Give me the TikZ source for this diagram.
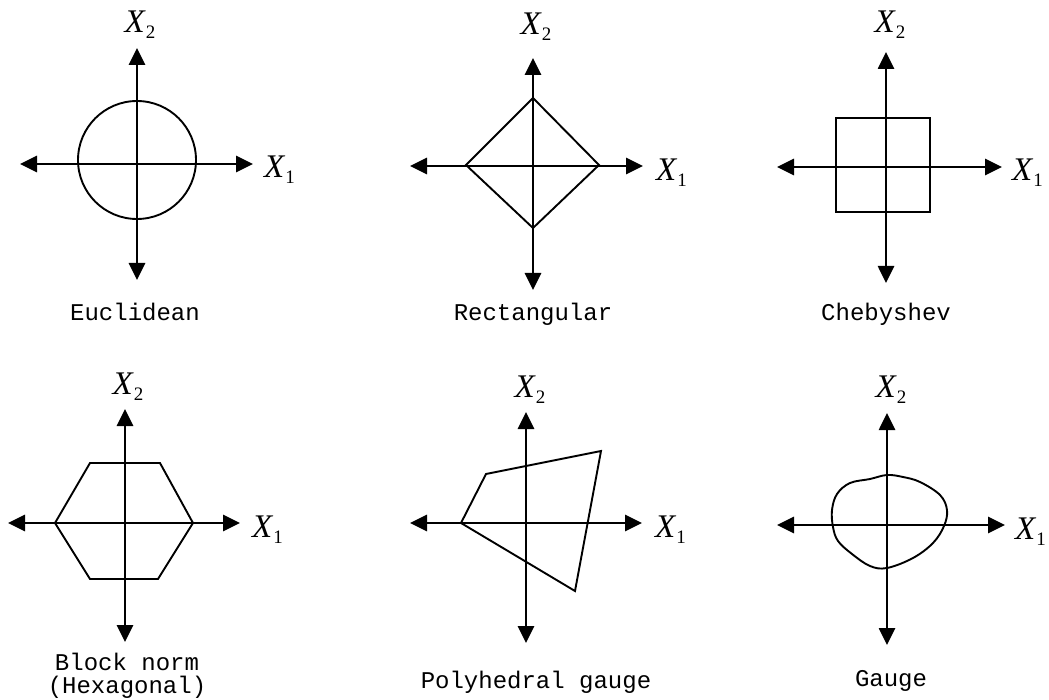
\documentclass[tikz,border=0pt]{standalone}
\usepackage{fontspec}
\setmainfont{Liberation Serif}
\setmonofont{Liberation Mono}
\usetikzlibrary{arrows.meta}
\newcommand{\axlab}[1]{{\fontsize{33}{33}\selectfont\itshape X}\hspace{1pt}\raisebox{-6pt}{\fontsize{19}{19}\selectfont #1}}
\tikzset{
  axisline/.style={line width=2.7pt, {Triangle[length=17pt,width=16pt]}-{Triangle[length=17pt,width=16pt]}},
  shapeline/.style={line width=1.9pt, line join=miter},
  xonelab/.style={anchor=base west, inner sep=0pt},
  xtwolab/.style={anchor=base, inner sep=0pt},
  caption/.style={anchor=base, inner sep=0pt, font=\ttfamily\fontsize{24}{24}\selectfont, align=center}
}
\begin{document}
\begin{tikzpicture}[x=1pt,y=-1pt]
\useasboundingbox (0,0) rectangle (1049,700);
% ---------- Panel 1: Euclidean ----------
\coordinate (l1) at (20,164); \coordinate (r1) at (253,164);
\coordinate (t1) at (137,48); \coordinate (b1) at (137,280);
\draw[axisline] (l1) -- (r1);
\draw[axisline] (b1) -- (t1);
\draw[shapeline] (137,160) circle[radius=59];
\node[xonelab] (xa1) at (264,178) {\axlab{1}};
\node[xtwolab] (xb1) at (140,33) {\axlab{2}};
\node[caption] (c1) at (135,321) {Euclidean};
% ---------- Panel 2: Rectangular ----------
\coordinate (l2) at (410,166); \coordinate (r2) at (643,166);
\coordinate (t2) at (533,58); \coordinate (b2) at (533,290);
\draw[axisline] (l2) -- (r2);
\draw[axisline] (b2) -- (t2);
\draw[shapeline] (533,98) -- (599,165) -- (533,228) -- (466,165) -- cycle;
\node[xonelab] (xa2) at (656,181) {\axlab{1}};
\node[xtwolab] (xb2) at (536,35) {\axlab{2}};
\node[caption] (c2) at (533,321) {Rectangular};
% ---------- Panel 3: Chebyshev ----------
\coordinate (l3) at (777,167); \coordinate (r3) at (1002,167);
\coordinate (t3) at (886,52); \coordinate (b3) at (886,283);
\draw[axisline] (l3) -- (r3);
\draw[axisline] (b3) -- (t3);
\draw[shapeline] (836,118) rectangle (930,212);
\node[xonelab] (xa3) at (1012,181) {\axlab{1}};
\node[xtwolab] (xb3) at (890,33) {\axlab{2}};
\node[caption] (c3) at (886,321) {Chebyshev};
% ---------- Panel 4: Block norm ----------
\coordinate (l4) at (8,523); \coordinate (r4) at (240,523);
\coordinate (t4) at (125,409); \coordinate (b4) at (125,642);
\draw[axisline] (l4) -- (r4);
\draw[axisline] (b4) -- (t4);
\draw[shapeline] (55,523) -- (90,463) -- (160,463) -- (193,523) -- (158,579) -- (90,579) -- cycle;
\node[xonelab] (xa4) at (252,537) {\axlab{1}};
\node[xtwolab] (xb4) at (128,394) {\axlab{2}};
\node[caption] (c4) at (127,670) {Block norm};
\node[caption] (c4b) at (127,693) {(Hexagonal)};
% ---------- Panel 5: Polyhedral gauge ----------
\coordinate (l5) at (410,523); \coordinate (r5) at (642,523);
\coordinate (t5) at (526,412); \coordinate (b5) at (526,643);
\draw[axisline] (l5) -- (r5);
\draw[axisline] (b5) -- (t5);
\draw[shapeline] (461,523) -- (486,474) -- (601,451) -- (575,591) -- cycle;
\node[xonelab] (xa5) at (655,537) {\axlab{1}};
\node[xtwolab] (xb5) at (530,397) {\axlab{2}};
\node[caption] (c5) at (536,688) {Polyhedral gauge};
% ---------- Panel 6: Gauge ----------
\coordinate (l6) at (777,525); \coordinate (r6) at (1005,525);
\coordinate (t6) at (887,413); \coordinate (b6) at (887,645);
\draw[axisline] (l6) -- (r6);
\draw[axisline] (b6) -- (t6);
\draw[shapeline] plot[smooth cycle, tension=0.6] coordinates {
  (887,475) (870,479) (850,483) (837,494) (832,510) (833,527) (838,541)
  (852,554) (870,566) (887,568) (913,558) (933,543) (944,526) (947,510)
  (940,495) (920,482) (903,477)};
\node[xonelab] (xa6) at (1015,539) {\axlab{1}};
\node[xtwolab] (xb6) at (891,397) {\axlab{2}};
\node[caption] (c6) at (891,686) {Gauge};
\end{tikzpicture}
\end{document}
